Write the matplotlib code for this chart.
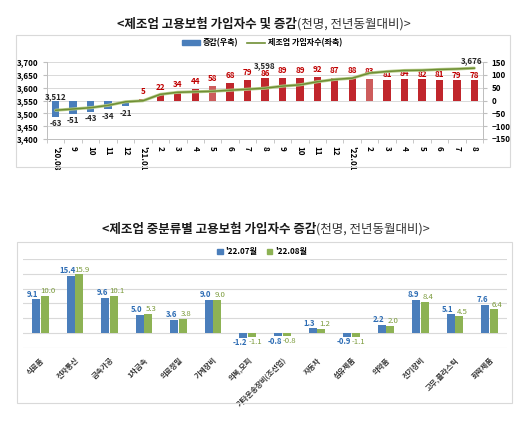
import numpy as np
import matplotlib.pyplot as plt
from matplotlib.patches import Rectangle
from matplotlib.lines import Line2D

plt.rcParams["font.family"] = ["Noto Sans CJK KR", "DejaVu Sans"]

# top chart data
months = ["'20.08", "9", "10", "11", "12", "'21.01", "2", "3", "4", "5", "6", "7",
          "8", "9", "10", "11", "12", "'22.01", "2", "3", "4", "5", "6", "7", "8"]
change = [-63, -51, -43, -34, -21, 5, 22, 34, 44, 58, 68, 79,
          86, 89, 89, 92, 87, 88, 83, 81, 84, 82, 81, 79, 78]
insured = [3512, 3517, 3522, 3531, 3545, 3549, 3574, 3582, 3584, 3586, 3590, 3594,
           3598, 3606, 3611, 3623, 3632, 3637, 3657, 3663, 3667, 3668, 3671, 3673, 3676]
insured_labels = {0: "3,512", 12: "3,598", 24: "3,676"}

# bottom chart data
industries = ["식료품", "전자통신", "금속가공", "1차금속", "의료정밀", "기계장비", "의복,모피",
              "기타운송장비(조선업)", "자동차", "섬유제품", "의약품", "전기장비", "고무,플라스틱", "화학제품"]
jul22 = [9.1, 15.4, 9.6, 5.0, 3.6, 9.0, -1.2, -0.8, 1.3, -0.9, 2.2, 8.9, 5.1, 7.6]
aug22 = [10.0, 15.9, 10.1, 5.3, 3.8, 9.0, -1.1, -0.8, 1.2, -1.1, 2.0, 8.4, 4.5, 6.4]

W, H = 530, 422
fig = plt.figure(figsize=(W / 100, H / 100), dpi=100)


def px_rect(x0, y0, x1, y1):
    return [x0 / W, 1 - y1 / H, (x1 - x0) / W, (y1 - y0) / H]


# frames round the two charts
for (x0, y0, x1, y1) in [(16, 35, 510, 167), (17, 242, 512, 403)]:
    fig.patches.append(Rectangle((x0 / W, 1 - y1 / H), (x1 - x0) / W, (y1 - y0) / H,
                                 transform=fig.transFigure, fill=False,
                                 edgecolor="#D9D9D9", linewidth=0.8))

grey = "#BFBFBF"
gridc = "#D9D9D9"
blue = "#4A7EBB"
red = "#C0262C"
line_green = "#6F8F35"

# ---- top chart ----
ax = fig.add_axes(px_rect(47, 62, 483, 139))
ax2 = ax.twinx()
x = np.arange(len(months))

bar_colors = []
for i, v in enumerate(change):
    if v < 0:
        bar_colors.append(blue)
    elif i in (9, 18):
        bar_colors.append("#CD5C5C")
    else:
        bar_colors.append(red)
ax2.bar(x, change, width=0.42, color=bar_colors, zorder=2)
ax2.set_ylim(-150, 150)
ax2.set_yticks(np.arange(-150, 151, 50))

for i, v in enumerate(change):
    if v < 0:
        ax2.annotate(f"{v}", (i, v), xytext=(0, -2), textcoords="offset points",
                     ha="center", va="top", fontsize=5.8, fontweight="bold", color="#262626")
    else:
        dy = 0.5 if i >= 19 or i == 12 else 2
        ax2.annotate(f"{v}", (i, v), xytext=(0, dy), textcoords="offset points",
                     ha="center", va="bottom", fontsize=5.8, fontweight="bold", color="#C00000")

ax.plot(x, insured, color="#B7CC8A", linewidth=2.2, zorder=3, solid_capstyle="round")
ax.plot(x, insured, color=line_green, linewidth=1.1, zorder=4)
ax.set_zorder(ax2.get_zorder() + 1)
ax.patch.set_visible(False)
ax2.patch.set_visible(True)
label_offsets = {0: (0, 6.5), 12: (0, 13), 24: (-2, 2)}
for i, lab in insured_labels.items():
    ax.annotate(lab, (i, insured[i]), xytext=label_offsets[i], textcoords="offset points",
                ha="center", va="bottom", fontsize=5.8, fontweight="bold", color="#262626")

ax.set_ylim(3400, 3700)
ax.set_yticks(np.arange(3400, 3701, 50))
ax.set_yticklabels([f"{v:,}" for v in range(3400, 3701, 50)])
ax.set_xlim(-0.5, len(months) - 0.5)
ax.set_xticks(x)
ax.set_xticklabels(months, rotation=270, fontsize=5.8, fontweight="bold")
ax.set_xticks(np.arange(-0.5, len(months), 1), minor=True)
ax.tick_params(axis="x", which="major", length=0, pad=5)
ax.tick_params(axis="x", which="minor", length=3, color=grey)
ax.tick_params(axis="y", labelsize=5.8, length=3, color=grey, pad=3)
ax2.tick_params(axis="y", labelsize=5.8, length=3, color=grey, pad=3)
for lab in ax.get_yticklabels() + ax2.get_yticklabels():
    lab.set_fontweight("bold")
for v in range(-150, 151, 50):
    ax2.axhline(v, color=gridc, linewidth=0.7, zorder=0)
for a in (ax, ax2):
    a.spines["top"].set_visible(False)
    for side in ("left", "right", "bottom"):
        a.spines[side].set_color(grey)
        a.spines[side].set_linewidth(0.7)

handles = [Rectangle((0, 0), 1, 1, color=blue),
           Line2D([0], [0], color=line_green, linewidth=1.2)]
fig.legend(handles, ["증감(우축)", "제조업 가입자수(좌축)"], loc="center",
           bbox_to_anchor=(262 / W, 1 - 43 / H), ncol=2, frameon=False,
           prop={"size": 5.8, "weight": "bold"}, handlelength=2.2, handleheight=0.45,
           columnspacing=1.2, handletextpad=0.3)

# titles
fig.text(297 / W, 1 - 24 / H, "<제조업 고용보험 가입자수 및 증감", ha="right", va="center",
         fontsize=9, fontweight="bold", color="#1A1A1A")
fig.text(297 / W, 1 - 24 / H, "(천명, 전년동월대비)>", ha="left", va="center",
         fontsize=9, color="#333333")
fig.text(316 / W, 1 - 229 / H, "<제조업 중분류별 고용보험 가입자수 증감", ha="right", va="center",
         fontsize=9, fontweight="bold", color="#1A1A1A")
fig.text(316 / W, 1 - 229 / H, "(천명, 전년동월대비)>", ha="left", va="center",
         fontsize=9, color="#333333")

# ---- bottom chart ----
bx = fig.add_axes(px_rect(23, 259, 507, 348))
xi = np.arange(len(industries))
bw = 0.23
c07 = "#4A7EBB"
c08 = "#8DB254"
bx.bar(xi - bw / 2 - 0.01, jul22, width=bw, color=c07, zorder=2, label="'22.07월")
bx.bar(xi + bw / 2 + 0.01, aug22, width=bw, color=c08, zorder=2, label="'22.08월")
for i in range(len(industries)):
    for v, dx, px, col, fw in [(jul22[i], -bw / 2 - 0.01, -2.2, "#2E6DB4", "bold"),
                               (aug22[i], bw / 2 + 0.01, 2.2, "#7A9A3A", "normal")]:
        if v >= 0:
            bx.annotate(f"{v:.1f}", (i + dx, v), xytext=(px, 0.5), textcoords="offset points",
                        ha="center", va="bottom", fontsize=5.6, fontweight=fw, color=col)
        else:
            bx.annotate(f"{v:.1f}", (i + dx, v), xytext=(px, -0.5), textcoords="offset points",
                        ha="center", va="top", fontsize=5.6, fontweight=fw, color=col)

bx.set_ylim(-4, 20)
bx.set_yticks(np.arange(-4, 21, 4))
bx.set_yticklabels([])
bx.tick_params(axis="y", length=0)
bx.grid(True, axis="y", color=gridc, linewidth=0.8)
bx.set_axisbelow(True)
bx.set_xlim(-0.5, len(industries) - 0.5)
bx.set_xticks(xi)
bx.set_xticklabels(industries, rotation=45, ha="right", rotation_mode="anchor",
                   fontsize=5.3, fontweight="bold", color="#333333")
bx.tick_params(axis="x", length=0, pad=6)
for s in bx.spines.values():
    s.set_visible(False)

fig.legend(handles=[Rectangle((0, 0), 1, 1, color=c07), Rectangle((0, 0), 1, 1, color=c08)],
           labels=["'22.07월", "'22.08월"], loc="center", bbox_to_anchor=(262 / W, 1 - 252 / H),
           ncol=2, frameon=False, prop={"size": 5.8, "weight": "bold"},
           handlelength=0.7, handleheight=0.7, columnspacing=1.2, handletextpad=0.3)

fig.savefig("out.png", dpi=100, facecolor="white")
